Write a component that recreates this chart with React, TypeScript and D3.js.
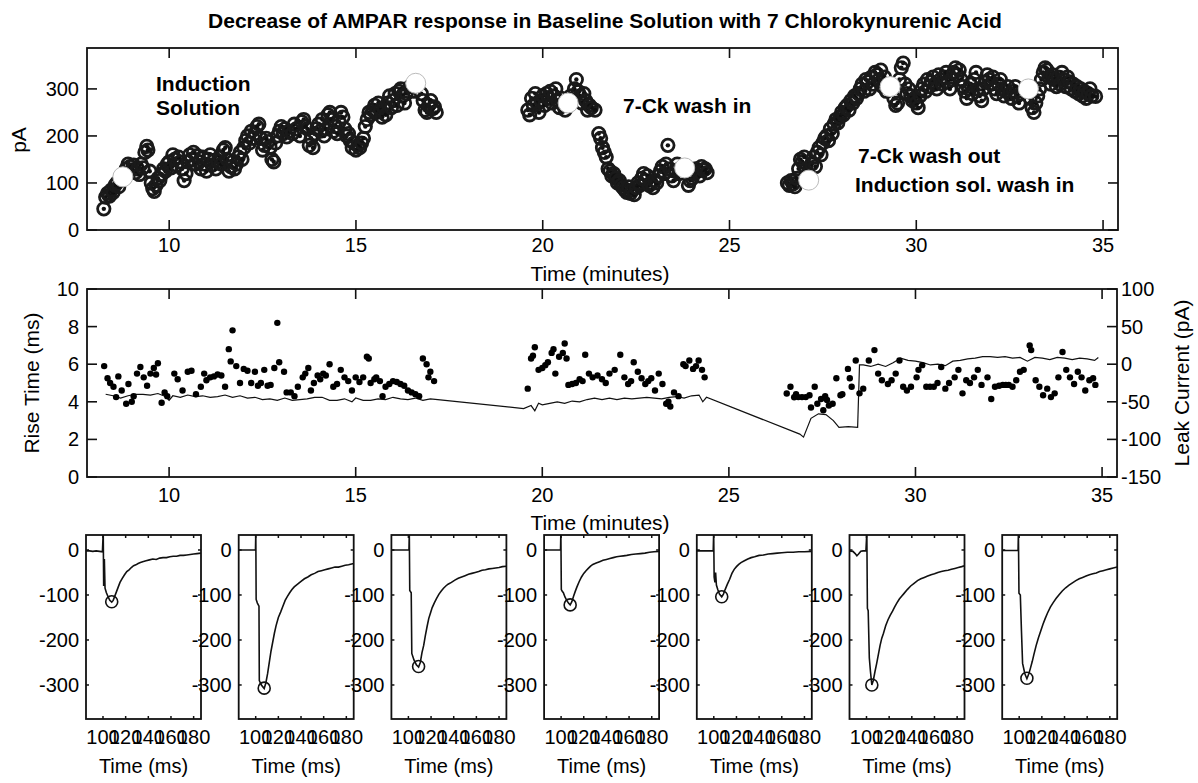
import React from "react";
import * as d3 from "d3";

type P = [number, number];

const titleText = "Decrease of AMPAR response in Baseline Solution with 7 Chlorokynurenic Acid";
const minuteTicks = [10, 15, 20, 25, 30, 35];
const ampTicks = [0, 100, 200, 300];
const riseTicks = [0, 2, 4, 6, 8, 10];
const leakTicks = [-150, -100, -50, 0, 50, 100];
const traceXTicks = [100, 120, 140, 160, 180];
const traceYTicks = [0, -100, -200, -300];

// AMPAR response amplitude (pA) vs time (minutes)
const ampInduction: P[] = [
  [8.25, 45], [8.3, 70], [8.35, 78], [8.4, 72], [8.45, 85], [8.5, 80], [8.55, 95], [8.6, 100], [8.65, 92], [8.7, 110],
  [8.85, 130], [8.9, 140], [8.95, 135], [9.0, 128], [9.05, 138], [9.1, 122], [9.15, 130], [9.2, 118], [9.25, 140],
  [9.3, 132], [9.35, 165], [9.4, 178], [9.43, 170], [9.48, 125], [9.52, 100], [9.56, 88], [9.6, 82], [9.65, 95],
  [9.7, 110], [9.75, 105], [9.8, 118], [9.85, 130], [9.9, 125], [9.95, 140], [10.0, 145], [10.05, 132], [10.1, 160],
  [10.15, 150], [10.2, 138], [10.25, 155], [10.3, 145], [10.35, 130], [10.4, 105], [10.45, 120], [10.5, 145],
  [10.55, 160], [10.6, 150], [10.65, 165], [10.7, 140], [10.75, 158], [10.8, 145], [10.85, 130], [10.9, 155],
  [10.95, 140], [11.0, 125], [11.05, 150], [11.1, 160], [11.15, 138], [11.2, 148], [11.25, 130], [11.3, 145],
  [11.35, 155], [11.4, 140], [11.45, 170], [11.5, 175], [11.55, 150], [11.6, 125], [11.65, 135], [11.7, 145],
  [11.75, 130], [11.8, 140], [11.85, 155], [11.9, 165], [11.95, 150], [12.0, 175], [12.05, 190], [12.1, 200],
  [12.15, 185], [12.2, 210], [12.25, 195], [12.3, 205], [12.35, 220], [12.4, 225], [12.45, 195], [12.5, 170],
  [12.55, 180], [12.6, 195], [12.65, 188], [12.7, 175], [12.75, 150], [12.8, 145], [12.85, 185], [12.9, 200],
  [12.95, 210], [13.0, 220], [13.05, 205], [13.1, 215], [13.15, 198], [13.2, 210], [13.3, 205], [13.35, 225],
  [13.4, 215], [13.5, 200], [13.55, 230], [13.6, 235], [13.65, 220], [13.7, 215], [13.75, 180], [13.8, 195],
  [13.85, 175], [13.9, 205], [13.95, 215], [14.0, 225], [14.05, 210], [14.1, 235], [14.15, 200], [14.2, 215],
  [14.25, 245], [14.3, 250], [14.35, 235], [14.4, 210], [14.45, 220], [14.5, 205], [14.55, 230], [14.6, 250],
  [14.65, 240], [14.7, 215], [14.75, 200], [14.8, 205], [14.85, 190], [14.9, 175], [14.95, 185], [15.0, 170],
  [15.05, 180], [15.1, 175], [15.15, 185], [15.2, 195], [15.25, 220], [15.3, 235], [15.35, 250], [15.4, 245],
  [15.45, 255], [15.5, 265], [15.55, 250], [15.6, 270], [15.65, 255], [15.7, 240], [15.75, 260], [15.8, 245],
  [15.85, 270], [15.9, 285], [15.95, 260], [16.0, 275], [16.05, 290], [16.1, 265], [16.15, 295], [16.2, 300],
  [16.25, 285], [16.3, 270], [16.35, 290], [16.45, 305], [16.55, 295], [16.75, 290], [16.8, 275], [16.85, 255],
  [16.9, 250], [16.95, 265], [17.0, 275], [17.05, 258], [17.1, 262], [17.15, 250],
];
const ampWashIn: P[] = [
  [19.6, 255], [19.65, 245], [19.7, 280], [19.75, 265], [19.8, 290], [19.85, 270], [19.9, 250], [19.95, 275],
  [20.0, 285], [20.05, 265], [20.1, 290], [20.15, 280], [20.2, 295], [20.25, 270], [20.3, 285], [20.35, 300],
  [20.4, 275], [20.45, 260], [20.5, 280], [20.55, 265], [20.6, 255], [20.75, 285], [20.85, 300], [20.9, 320],
  [20.95, 295], [21.0, 285], [21.05, 270], [21.1, 290], [21.15, 275], [21.2, 255], [21.25, 265], [21.3, 260],
  [21.4, 255], [21.5, 205], [21.55, 195], [21.6, 175], [21.65, 165], [21.7, 155], [21.75, 130], [21.8, 125],
  [21.85, 115], [21.9, 120], [21.95, 110], [22.0, 100], [22.05, 105], [22.1, 95], [22.15, 90], [22.2, 85],
  [22.25, 80], [22.3, 92], [22.35, 78], [22.4, 85], [22.45, 75], [22.5, 90], [22.55, 100], [22.6, 95],
  [22.65, 110], [22.7, 120], [22.75, 105], [22.8, 115], [22.85, 95], [22.9, 100], [22.95, 90], [23.0, 105],
  [23.05, 100], [23.1, 115], [23.15, 125], [23.2, 135], [23.25, 120], [23.3, 140], [23.35, 180], [23.4, 130],
  [23.45, 115], [23.5, 105], [23.55, 125], [23.6, 140], [23.65, 120], [23.9, 95], [23.95, 105], [24.0, 110],
  [24.05, 120], [24.1, 130], [24.15, 125], [24.2, 115], [24.25, 135], [24.3, 128], [24.35, 130], [24.4, 122],
];
const ampWashOut: P[] = [
  [26.55, 100], [26.6, 95], [26.65, 105], [26.7, 98], [26.75, 92], [26.8, 110], [26.85, 130], [26.9, 150],
  [26.95, 145], [27.0, 155], [27.05, 130], [27.1, 120], [27.2, 140], [27.25, 155], [27.3, 135], [27.35, 165],
  [27.4, 175], [27.45, 160], [27.5, 185], [27.55, 195], [27.6, 200], [27.65, 190], [27.7, 215], [27.75, 205],
  [27.8, 225], [27.85, 235], [27.9, 228], [27.95, 240], [28.0, 250], [28.05, 245], [28.1, 260], [28.15, 265],
  [28.2, 255], [28.25, 275], [28.3, 270], [28.35, 285], [28.4, 280], [28.45, 290], [28.5, 300], [28.55, 310],
  [28.6, 295], [28.65, 320], [28.7, 315], [28.75, 300], [28.8, 325], [28.85, 310], [28.9, 335], [28.95, 330],
  [29.0, 320], [29.05, 340], [29.1, 305], [29.15, 325], [29.2, 295], [29.4, 280], [29.45, 265], [29.5, 270],
  [29.55, 320], [29.6, 345], [29.65, 355], [29.7, 310], [29.75, 290], [29.8, 300], [29.85, 285], [29.9, 275],
  [29.95, 280], [30.0, 270], [30.05, 260], [30.1, 285], [30.15, 300], [30.2, 310], [30.25, 295], [30.3, 320],
  [30.35, 305], [30.4, 315], [30.45, 325], [30.5, 310], [30.55, 300], [30.6, 330], [30.65, 320], [30.7, 310],
  [30.75, 325], [30.8, 335], [30.85, 315], [30.9, 300], [30.95, 320], [31.0, 335], [31.05, 345], [31.1, 330],
  [31.15, 340], [31.2, 320], [31.25, 305], [31.3, 295], [31.35, 280], [31.4, 300], [31.45, 310], [31.5, 290],
  [31.55, 320], [31.6, 335], [31.65, 300], [31.7, 285], [31.75, 275], [31.8, 300], [31.85, 315], [31.9, 330],
  [31.95, 320], [32.0, 310], [32.05, 325], [32.1, 300], [32.15, 290], [32.2, 310], [32.25, 320], [32.3, 300],
  [32.35, 285], [32.4, 295], [32.45, 305], [32.5, 290], [32.55, 280], [32.6, 295], [32.65, 305], [32.7, 285],
  [32.75, 270], [32.8, 290], [33.05, 280], [33.1, 260], [33.15, 250], [33.2, 270], [33.25, 285], [33.3, 300],
  [33.35, 320], [33.4, 335], [33.45, 345], [33.5, 340], [33.55, 325], [33.6, 310], [33.65, 330], [33.7, 320],
  [33.75, 305], [33.8, 325], [33.85, 310], [33.9, 335], [33.95, 320], [34.0, 305], [34.05, 325], [34.1, 315],
  [34.15, 300], [34.2, 310], [34.25, 295], [34.3, 305], [34.35, 290], [34.4, 300], [34.45, 285], [34.5, 295],
  [34.55, 280], [34.6, 290], [34.65, 300], [34.7, 285], [34.8, 284],
];
// example sweeps shown below (highlighted as white circles)
const exampleSweeps: P[] = [
  [8.76, 113], [16.6, 312], [20.68, 270], [23.8, 132], [27.12, 106], [29.3, 305], [33.0, 300],
];

// Rise time (ms) vs time (minutes)
const riseTimes: P[] = [
  [8.26, 5.9], [8.35, 5.25], [8.42, 5.0], [8.51, 4.8], [8.58, 4.25], [8.64, 5.35], [8.73, 4.6], [8.85, 3.9],
  [8.91, 4.95], [9.0, 4.0], [9.05, 4.3], [9.14, 5.5], [9.23, 5.85], [9.32, 5.3], [9.41, 4.85], [9.5, 5.5],
  [9.59, 5.8], [9.65, 5.45], [9.7, 6.05], [9.8, 3.95], [9.88, 4.5], [9.95, 4.3], [10.14, 5.5], [10.23, 5.2],
  [10.36, 4.6], [10.5, 5.6], [10.6, 5.65], [10.72, 4.4], [10.85, 4.8], [10.94, 5.5], [11.0, 5.15], [11.1, 5.3],
  [11.2, 5.35], [11.3, 5.45], [11.4, 5.4], [11.5, 4.8], [11.6, 6.8], [11.65, 6.15], [11.7, 7.8], [11.8, 5.9],
  [11.9, 5.0], [12.0, 5.75], [12.1, 5.65], [12.2, 5.0], [12.3, 5.6], [12.38, 4.85], [12.46, 5.0], [12.55, 5.7],
  [12.64, 4.85], [12.72, 4.9], [12.82, 5.8], [12.9, 8.2], [12.95, 6.1], [13.08, 5.6], [13.15, 4.5], [13.26, 4.5],
  [13.36, 4.3], [13.45, 4.8], [13.58, 5.3], [13.65, 5.5], [13.73, 5.8], [13.8, 4.6], [13.88, 5.0], [13.98, 5.4],
  [14.05, 5.2], [14.13, 5.5], [14.2, 5.4], [14.3, 6.0], [14.4, 4.8], [14.5, 4.95], [14.6, 5.7], [14.7, 5.3],
  [14.8, 5.1], [14.9, 4.6], [15.0, 5.3], [15.1, 5.05], [15.2, 5.3], [15.3, 6.4], [15.35, 6.3], [15.4, 5.0],
  [15.5, 5.2], [15.55, 5.3], [15.65, 5.1], [15.72, 4.3], [15.8, 4.8], [15.9, 4.95], [16.0, 5.1], [16.1, 5.05],
  [16.2, 4.95], [16.3, 4.85], [16.4, 4.6], [16.5, 4.5], [16.6, 4.4], [16.7, 4.3], [16.8, 6.3], [16.9, 6.0],
  [16.95, 5.3], [17.0, 5.6], [17.1, 5.1],
  [19.61, 4.7], [19.7, 6.3], [19.75, 6.45], [19.8, 6.9], [19.9, 5.7], [20.0, 5.8], [20.08, 5.95], [20.15, 6.1],
  [20.25, 6.6], [20.3, 6.8], [20.35, 5.5], [20.45, 6.4], [20.55, 6.6], [20.6, 7.1], [20.65, 6.3], [20.7, 4.9],
  [20.8, 4.95], [20.9, 5.0], [21.0, 5.2], [21.08, 5.1], [21.15, 6.5], [21.25, 5.5], [21.35, 5.3], [21.48, 5.4],
  [21.6, 5.2], [21.7, 5.0], [21.8, 5.5], [21.94, 5.7], [22.09, 6.5], [22.2, 5.3], [22.3, 4.95], [22.38, 5.1],
  [22.45, 6.1], [22.56, 5.6], [22.66, 5.25], [22.76, 4.95], [22.84, 5.1], [22.92, 5.25], [23.02, 4.6],
  [23.12, 5.5], [23.22, 4.95], [23.32, 3.9], [23.38, 4.0], [23.43, 3.75], [23.53, 4.5], [23.65, 4.3],
  [23.78, 6.0], [23.84, 5.9], [23.94, 6.2], [24.04, 5.75], [24.12, 5.9], [24.19, 6.2], [24.28, 5.7], [24.35, 5.3],
  [26.55, 4.44], [26.65, 4.8], [26.75, 4.24], [26.8, 4.4], [26.86, 4.25], [26.96, 4.25], [27.06, 4.25],
  [27.16, 4.35], [27.2, 3.7], [27.3, 4.8], [27.37, 3.9], [27.47, 4.15], [27.53, 3.55], [27.58, 4.3], [27.63, 4.1],
  [27.68, 3.8], [27.78, 3.9], [27.88, 5.25], [27.99, 4.35], [28.04, 4.4], [28.19, 5.75], [28.24, 5.25],
  [28.29, 4.8], [28.4, 6.2], [28.5, 4.45], [28.6, 4.7], [28.75, 6.2], [28.9, 6.75], [29.0, 5.5], [29.1, 5.15],
  [29.26, 4.95], [29.36, 5.15], [29.47, 5.5], [29.57, 6.2], [29.67, 4.8], [29.77, 4.6], [29.88, 4.8],
  [30.03, 5.3], [30.08, 5.7], [30.18, 5.95], [30.29, 4.8], [30.39, 4.8], [30.49, 4.8], [30.59, 5.0],
  [30.69, 5.85], [30.8, 4.7], [30.9, 5.0], [31.05, 5.3], [31.15, 5.7], [31.26, 4.45], [31.36, 5.15],
  [31.46, 5.0], [31.57, 5.3], [31.67, 5.7], [31.77, 4.9], [31.93, 5.3], [32.03, 4.15], [32.13, 4.8],
  [32.24, 4.85], [32.34, 4.9], [32.42, 4.9], [32.5, 4.9], [32.6, 4.8], [32.7, 5.15], [32.8, 5.6], [32.9, 5.7],
  [33.06, 7.0], [33.1, 6.75], [33.22, 5.15], [33.32, 4.8], [33.42, 4.35], [33.53, 4.7], [33.63, 4.25],
  [33.73, 4.45], [33.83, 5.3], [33.94, 6.65], [34.04, 5.7], [34.14, 5.3], [34.25, 4.95], [34.35, 5.6],
  [34.45, 5.3], [34.55, 4.6], [34.66, 5.15], [34.76, 5.25], [34.82, 4.9],
];

// Leak current (pA) vs time (minutes)
const leakCurrent: P[] = [
  [8.3, -40], [8.5, -42], [8.7, -45], [8.9, -42], [9.1, -40], [9.3, -40], [9.5, -41], [9.7, -39], [9.9, -43],
  [10.0, -48], [10.1, -42], [10.3, -44], [10.5, -41], [10.7, -43], [10.9, -42], [11.1, -44], [11.3, -43],
  [11.5, -41], [11.7, -44], [11.9, -42], [12.1, -45], [12.3, -44], [12.5, -47], [12.7, -46], [12.9, -48],
  [13.1, -45], [13.3, -48], [13.5, -47], [13.7, -46], [13.9, -44], [14.1, -44], [14.3, -48], [14.5, -48],
  [14.7, -46], [14.9, -50], [15.0, -45], [15.2, -48], [15.4, -48], [15.6, -46], [15.8, -47], [16.0, -44],
  [16.2, -46], [16.4, -47], [16.6, -45], [16.8, -48], [17.0, -46], [17.2, -47],
  [19.5, -59], [19.7, -55], [19.8, -62], [19.9, -52], [20.0, -54], [20.2, -52], [20.4, -50], [20.6, -52],
  [20.8, -49], [21.0, -50], [21.2, -47], [21.4, -45], [21.6, -47], [21.8, -45], [22.0, -47], [22.2, -45],
  [22.4, -46], [22.6, -45], [22.8, -44], [23.0, -45], [23.2, -46], [23.4, -44], [23.6, -43], [23.8, -45],
  [24.0, -42], [24.2, -41], [24.3, -50], [24.4, -44],
  [26.9, -93], [27.0, -97], [27.2, -72], [27.4, -66], [27.6, -67], [27.8, -75], [27.95, -84], [28.2, -83],
  [28.45, -84], [28.5, -1], [28.6, -1], [28.8, -3], [29.0, 0], [29.2, -3], [29.4, 2], [29.6, 8], [29.8, 5],
  [30.0, 4], [30.2, 2], [30.4, -1], [30.6, 0], [30.8, -2], [31.0, 4], [31.2, 5], [31.4, 7], [31.6, 8],
  [31.8, 10], [32.0, 10], [32.2, 9], [32.4, 10], [32.6, 8], [32.8, 9], [33.0, 4], [33.2, 9], [33.4, 8],
  [33.6, 6], [33.8, 9], [34.0, 8], [34.2, 6], [34.4, 8], [34.6, 7], [34.8, 5], [34.9, 9],
];

// Example sweeps: current (pA) vs time (ms)
const sweep1: P[] = [
  [85, -2], [88, -2], [91, -3], [94, -2], [97, -3], [99.5, -4], [100.2, 40], [100.6, -80], [101.2, -20],
  [101.8, -85], [103, -95], [104.5, -104], [106, -112], [107.7, -116], [109, -112], [110.5, -102], [112, -92],
  [113.5, -82], [115, -72], [117, -63], [119, -55], [121, -48], [123, -44], [125, -39], [127, -35], [129, -33],
  [131, -30], [133, -28], [135, -26], [138, -24], [141, -22], [144, -20], [147, -21], [150, -18], [153, -17],
  [156, -17], [159, -15], [162, -14], [165, -14], [168, -12], [171, -12], [174, -11], [177, -10], [180, -9],
  [183, -8], [186.5, -7],
];
const sweep2: P[] = [
  [85, 0], [88, 0], [91, 0], [94, 0], [97, 0], [99.8, 0], [100.1, 40], [100.4, -110], [101.5, -118],
  [102.9, -125], [103.2, -290], [105, -300], [107.5, -308], [109, -295], [110.5, -275], [112, -250],
  [113.5, -225], [115, -205], [116.5, -185], [118, -168], [120, -150], [122, -138], [124, -125], [126, -112],
  [128, -103], [130, -95], [132, -88], [134, -82], [137, -76], [140, -70], [143, -64], [146, -60], [149, -55],
  [152, -52], [155, -48], [158, -46], [161, -44], [164, -42], [167, -40], [170, -38], [173, -38], [176, -36],
  [179, -34], [182, -33], [186.5, -30],
];
const sweep3: P[] = [
  [85, 0], [90, 0], [95, 0], [99, 0], [100.5, 0], [100.8, 40], [101.2, -90], [102.5, -95], [103, -230],
  [105, -245], [107, -255], [109, -260], [110.5, -250], [112, -228], [113.5, -212], [115, -190], [116.5, -170],
  [118, -152], [119.5, -140], [121, -128], [123, -117], [125, -107], [127, -98], [129, -91], [131, -85],
  [133, -80], [135, -76], [138, -72], [141, -67], [144, -63], [147, -60], [150, -57], [153, -54], [156, -52],
  [159, -50], [162, -48], [165, -45], [168, -44], [171, -42], [174, -41], [177, -40], [180, -39], [183, -37],
  [186.5, -36],
];
const sweep4: P[] = [
  [85, 0], [90, 0], [95, 0], [99.5, 0], [99.8, 40], [100.2, -88], [101, -92], [102, -95], [103.5, -105],
  [105, -112], [106.5, -118], [108, -122], [109.5, -115], [111, -103], [112.5, -92], [114, -82], [116, -70],
  [118, -60], [120, -52], [122, -46], [124, -41], [126, -36], [128, -32], [131, -29], [134, -26], [137, -23],
  [140, -21], [143, -19], [146, -17], [149, -15], [152, -14], [155, -13], [158, -12], [162, -10], [166, -9],
  [170, -8], [174, -7], [178, -5], [182, -4], [186.5, -3],
];
const sweep5: P[] = [
  [85, -2], [90, -2], [95, -2], [99.5, -2], [99.9, 40], [100.3, -60], [101, -72], [101.6, -50], [102.3, -78],
  [103.5, -88], [105, -98], [107, -104], [108.5, -98], [110, -88], [112, -76], [114, -65], [116, -52],
  [118, -43], [120, -37], [122, -32], [124, -28], [127, -24], [130, -20], [133, -17], [136, -15], [140, -12],
  [144, -11], [148, -9], [152, -8], [156, -7], [160, -6], [165, -5], [170, -5], [175, -4], [180, -4],
  [186.5, -3],
];
const sweep6: P[] = [
  [85, -2], [88, -3], [90, -8], [91.5, -13], [93, -9], [95, -3], [97, -2], [99.5, -2], [100.3, 40],
  [100.8, -130], [101.5, -135], [102.5, -240], [103.5, -270], [104.7, -300], [106, -290], [107.5, -270],
  [109, -252], [110.5, -232], [112, -212], [113.5, -196], [115, -185], [117, -168], [119, -155], [121, -145],
  [123, -136], [125, -126], [127, -117], [129, -109], [131, -103], [133, -97], [136, -88], [139, -80],
  [142, -74], [145, -68], [148, -64], [151, -61], [154, -58], [157, -55], [160, -53], [163, -50], [166, -48],
  [169, -46], [172, -45], [175, -43], [178, -41], [181, -39], [184, -37], [186.5, -35],
];
const sweep7: P[] = [
  [85, -1], [90, -1], [95, -1], [99, -1], [99.3, 40], [99.8, -96], [101, -100], [102, -180], [103, -252],
  [105, -275], [106.8, -286], [108.5, -275], [110, -262], [111.5, -248], [113, -232], [115, -212], [117, -195],
  [119, -180], [121, -165], [123, -152], [125, -140], [127.5, -127], [130, -117], [132.5, -108], [135, -100],
  [138, -91], [141, -84], [144, -78], [147, -73], [150, -68], [153, -64], [156, -61], [159, -58], [162, -55],
  [165, -53], [168, -51], [171, -48], [174, -46], [177, -44], [180, -42], [183, -40], [186.5, -38],
];
const sweeps = [sweep1, sweep2, sweep3, sweep4, sweep5, sweep6, sweep7];
const sweepPeaks: P[] = [
  [107.7, -115], [107.5, -307], [109, -259], [108, -122], [107, -104], [104.7, -300], [106.8, -285],
];

const FONT = "'Liberation Sans', Arial, Helvetica, sans-serif";
const AX = "#111";

function Box({ x0, x1, y0, y1 }: { x0: number; x1: number; y0: number; y1: number }) {
  return <rect x={x0} y={y0} width={x1 - x0} height={y1 - y0} fill="none" stroke={AX} strokeWidth={1.8} />;
}

export default function App() {
  // ---------- top panel ----------
  const tx = d3.scaleLinear().domain([7.8, 35.4]).range([87, 1118]);
  const ty = d3.scaleLinear().domain([0, 387]).range([230, 48]);
  const allAmp = [...ampInduction, ...ampWashIn, ...ampWashOut];

  // ---------- middle panel ----------
  const mx = d3.scaleLinear().domain([7.8, 35.4]).range([87, 1117]);
  const myL = d3.scaleLinear().domain([0, 10]).range([477, 289]);
  const myR = d3.scaleLinear().domain([-150, 100]).range([477, 289]);
  const leakLine = d3
    .line<P>()
    .x((d) => mx(d[0]))
    .y((d) => myR(d[1]));

  // ---------- bottom panels ----------
  const panelW = 115;
  const panelStep = 152.7;
  const panelLeft0 = 86;
  const bTop = 535;
  const bBot = 719;
  const by = d3.scaleLinear().domain([-375.6, 33.3]).range([bBot, bTop]);

  const tickFont = 20;

  return (
    <svg
      width={1198}
      height={783}
      style={{ position: "absolute", left: 0, top: 0, background: "#fff" }}
      fontFamily={FONT}
    >
      <rect x={0} y={0} width={1198} height={783} fill="#fff" />
      {/* Title */}
      <text x={605} y={28} textAnchor="middle" fontWeight="bold" fontSize={21} fill="#000">
        {titleText}
      </text>

      {/* ===== TOP PANEL ===== */}
      <g>
        {minuteTicks.map((t) => (
          <g key={"tt" + t}>
            <line x1={tx(t)} x2={tx(t)} y1={230} y2={220} stroke={AX} strokeWidth={1.6} />
            <line x1={tx(t)} x2={tx(t)} y1={48} y2={58} stroke={AX} strokeWidth={1.6} />
            <text x={tx(t)} y={245} textAnchor="middle" dominantBaseline="central" fontSize={tickFont}>
              {t}
            </text>
          </g>
        ))}
        {ampTicks.map((v) => (
          <g key={"ta" + v}>
            <line x1={87} x2={97} y1={ty(v)} y2={ty(v)} stroke={AX} strokeWidth={1.6} />
            <line x1={1118} x2={1108} y1={ty(v)} y2={ty(v)} stroke={AX} strokeWidth={1.6} />
            <text x={79} y={ty(v)} textAnchor="end" dominantBaseline="central" fontSize={tickFont}>
              {v}
            </text>
          </g>
        ))}
        <g>
          {allAmp.map((d, i) => (
            <g key={"a" + i}>
              <circle cx={tx(d[0])} cy={ty(d[1])} r={6.2} fill="none" stroke="#1a1a1a" strokeWidth={2.8} />
              <circle cx={tx(d[0])} cy={ty(d[1])} r={2.2} fill="#111" />
            </g>
          ))}
        </g>
        {exampleSweeps.map((d, i) => (
          <circle key={"w" + i} cx={tx(d[0])} cy={ty(d[1])} r={10} fill="#fff" stroke="#bbb" strokeWidth={1} />
        ))}
        <Box x0={87} x1={1118} y0={48} y1={230} />
        <text
          transform={`translate(18,140) rotate(-90)`}
          textAnchor="middle"
          dominantBaseline="central"
          fontSize={21}
        >
          pA
        </text>
        <text x={600} y={273} textAnchor="middle" dominantBaseline="central" fontSize={21}>
          Time (minutes)
        </text>
        <g fontWeight="bold" fontSize={21}>
          <text x={156} y={91}>Induction</text>
          <text x={156} y={115}>Solution</text>
          <text x={623} y={113}>7-Ck wash in</text>
          <text x={858} y={163}>7-Ck wash out</text>
          <text x={855} y={192}>Induction sol. wash in</text>
        </g>
      </g>

      {/* ===== MIDDLE PANEL ===== */}
      <g>
        {minuteTicks.map((t) => (
          <g key={"mt" + t}>
            <line x1={mx(t)} x2={mx(t)} y1={477} y2={467} stroke={AX} strokeWidth={1.6} />
            <line x1={mx(t)} x2={mx(t)} y1={289} y2={299} stroke={AX} strokeWidth={1.6} />
            <text x={mx(t)} y={495} textAnchor="middle" dominantBaseline="central" fontSize={tickFont}>
              {t}
            </text>
          </g>
        ))}
        {riseTicks.map((v) => (
          <g key={"ml" + v}>
            <line x1={87} x2={97} y1={myL(v)} y2={myL(v)} stroke={AX} strokeWidth={1.6} />
            <text x={79} y={myL(v)} textAnchor="end" dominantBaseline="central" fontSize={tickFont}>
              {v}
            </text>
          </g>
        ))}
        {leakTicks.map((v) => (
          <g key={"mr" + v}>
            <line x1={1117} x2={1107} y1={myR(v)} y2={myR(v)} stroke={AX} strokeWidth={1.6} />
            <text x={1121} y={myR(v)} textAnchor="start" dominantBaseline="central" fontSize={tickFont}>
              {v}
            </text>
          </g>
        ))}
        <path d={leakLine(leakCurrent) || ""} fill="none" stroke="#111" strokeWidth={1.2} />
        {riseTimes.map((d, i) => (
          <circle key={"r" + i} cx={mx(d[0])} cy={myL(d[1])} r={3.2} fill="#000" />
        ))}
        <Box x0={87} x1={1117} y0={289} y1={477} />
        <text
          transform={`translate(31,383) rotate(-90)`}
          textAnchor="middle"
          dominantBaseline="central"
          fontSize={21}
        >
          Rise Time (ms)
        </text>
        <text
          transform={`translate(1181,383) rotate(-90)`}
          textAnchor="middle"
          dominantBaseline="central"
          fontSize={21}
        >
          Leak Current (pA)
        </text>
        <text x={600} y={522} textAnchor="middle" dominantBaseline="central" fontSize={21}>
          Time (minutes)
        </text>
      </g>

      {/* ===== BOTTOM PANELS ===== */}
      {sweeps.map((sw, i) => {
        const left = panelLeft0 + i * panelStep;
        const right = left + panelW;
        const bx = d3.scaleLinear().domain([85, 186.5]).range([left, right]);
        const line = d3
          .line<P>()
          .x((d) => bx(d[0]))
          .y((d) => by(d[1]));
        const pk = sweepPeaks[i];
        return (
          <g key={"p" + i}>
            <clipPath id={"clip" + i}>
              <rect x={left} y={bTop} width={panelW} height={bBot - bTop} />
            </clipPath>
            <path d={line(sw) || ""} fill="none" stroke="#111" strokeWidth={1.6} clipPath={`url(#clip${i})`} />
            <circle cx={bx(pk[0])} cy={by(pk[1])} r={6} fill="none" stroke="#111" strokeWidth={1.6} />
            {traceXTicks.map((t) => (
              <g key={"bx" + t}>
                <line x1={bx(t)} x2={bx(t)} y1={bBot} y2={bBot - 3} stroke={AX} strokeWidth={1.5} />
                <line x1={bx(t)} x2={bx(t)} y1={bTop} y2={bTop + 3} stroke={AX} strokeWidth={1.5} />
                <text x={bx(t)} y={737} textAnchor="middle" dominantBaseline="central" fontSize={tickFont}>
                  {t}
                </text>
              </g>
            ))}
            {traceYTicks.map((v) => (
              <g key={"by" + v}>
                <line x1={left} x2={left + 3} y1={by(v)} y2={by(v)} stroke={AX} strokeWidth={1.5} />
                <line x1={right} x2={right - 3} y1={by(v)} y2={by(v)} stroke={AX} strokeWidth={1.5} />
                <text x={left - 7} y={by(v)} textAnchor="end" dominantBaseline="central" fontSize={tickFont}>
                  {v}
                </text>
              </g>
            ))}
            <Box x0={left} x1={right} y0={bTop} y1={bBot} />
            <text x={(left + right) / 2} y={766} textAnchor="middle" dominantBaseline="central" fontSize={20}>
              Time (ms)
            </text>
          </g>
        );
      })}
    </svg>
  );
}
